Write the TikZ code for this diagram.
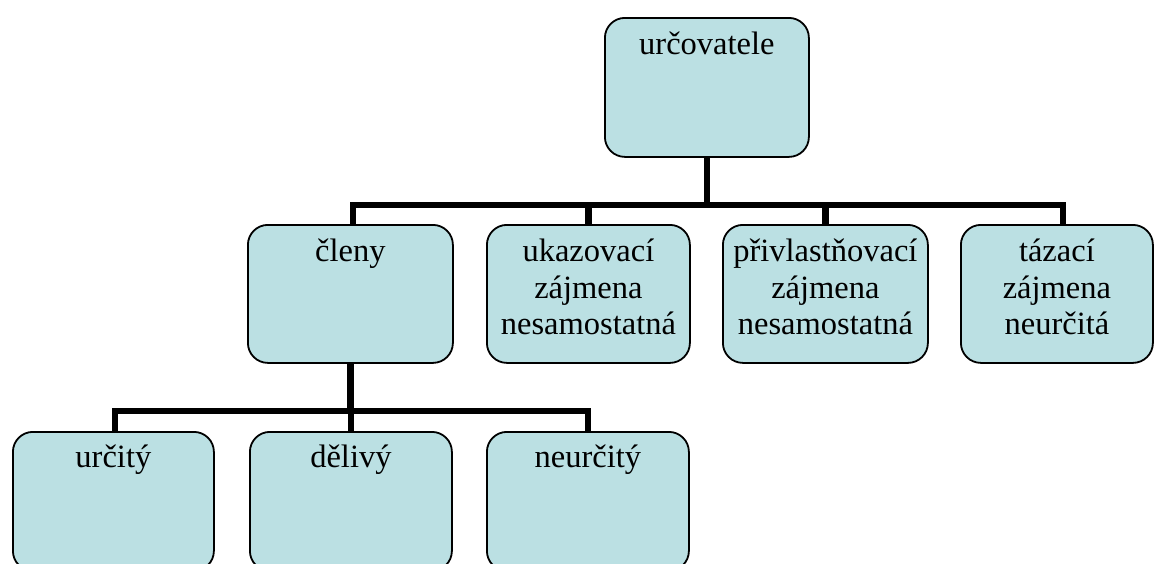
\documentclass[tikz,border=0pt]{standalone}
\usepackage{fontspec}
\setmainfont{Liberation Serif}
\definecolor{boxfill}{RGB}{187,224,227}
\pgfdeclarelayer{bg}
\pgfsetlayers{bg,main}
\begin{document}
\begin{tikzpicture}[x=1pt,y=-1pt,
  box/.style={draw=black, line width=1.8pt, rounded corners=20pt, fill=boxfill,
    anchor=north west, inner sep=0pt, minimum height=139pt},
  lbl/.style={anchor=north, inner sep=0pt, align=center,
    font=\fontsize{32.5}{36.5}\selectfont},
  link/.style={draw=black, line width=6.5pt}]
\useasboundingbox (0,0) rectangle (1154,563);

% boxes
\node[box, minimum width=204pt] (root) at (604,17) {};
\node[box, minimum width=205pt, minimum height=138pt] (clen) at (247,224) {};
\node[box, minimum width=203pt, minimum height=138pt] (ukaz) at (486,224) {};
\node[box, minimum width=205pt, minimum height=138pt] (priv) at (722,224) {};
\node[box, minimum width=192pt, minimum height=138pt] (taz) at (960,224) {};
\node[box, minimum width=201pt] (urc) at (12,431) {};
\node[box, minimum width=202pt] (del) at (249,431) {};
\node[box, minimum width=202pt] (neur) at (486,431) {};

% labels
\node[lbl] (root-t) at ([yshift=-15pt]root.north) {určovatele};
\node[lbl] (clen-t) at ([yshift=-15pt]clen.north) {členy};
\node[lbl] (ukaz-t) at ([yshift=-15pt]ukaz.north) {ukazovací\\zájmena\\nesamostatná};
\node[lbl] (priv-t) at ([yshift=-15pt]priv.north) {přivlastňovací\\zájmena\\nesamostatná};
\node[lbl] (taz-t) at ([yshift=-15pt]taz.north) {tázací\\zájmena\\neurčitá};
\node[lbl] (urc-t) at ([yshift=-14pt]urc.north) {určitý};
\node[lbl] (del-t) at ([yshift=-14pt]del.north) {dělivý};
\node[lbl] (neur-t) at ([yshift=-14pt]neur.north) {neurčitý};

% connectors
\begin{pgfonlayer}{bg}
  \draw[link] (root.south) -- ++(0,47) coordinate (j1);
  \draw[link] (j1) -| ([xshift=2.5pt]clen.north);
  \draw[link] (j1) -| (ukaz.north);
  \draw[link] (j1) -| (priv.north);
  \draw[link] (j1) -| ([xshift=6pt]taz.north);
  \draw[link] (clen.south) -- ++(0,47) coordinate (j2);
  \draw[link] (j2) -| ([xshift=1.5pt]urc.north);
  \draw[link] (j2) -| (del.north);
  \draw[link] (j2) -| (neur.north);
\end{pgfonlayer}
\end{tikzpicture}
\end{document}
